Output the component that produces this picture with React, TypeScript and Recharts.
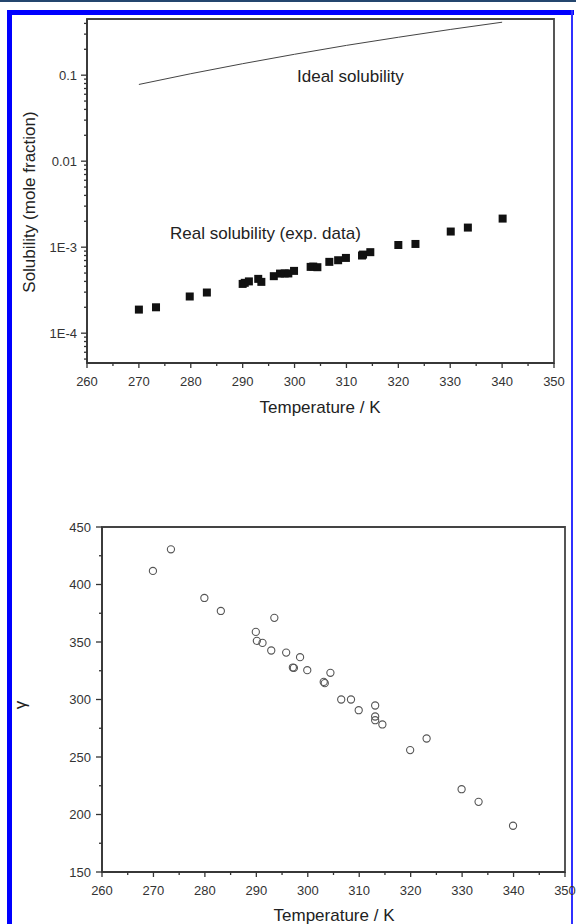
import React from 'react';
import { ScatterChart, Scatter, XAxis, YAxis, ReferenceArea } from 'recharts';

// measured solubility (mole fraction) vs temperature
const solTemps = [270.0, 273.3, 279.8, 283.1, 290.0, 290.4, 291.2, 293.0, 293.6, 296.0, 297.2, 298.1, 298.8, 299.9, 303.1, 303.6, 304.4, 306.7, 308.4, 309.9, 313.0, 313.2, 314.6, 320.0, 323.3, 330.1, 333.4, 340.1];
const solValues = [1.88e-4, 2.0e-4, 2.67e-4, 2.97e-4, 3.74e-4, 3.85e-4, 4.0e-4, 4.28e-4, 3.95e-4, 4.6e-4, 4.93e-4, 4.95e-4, 4.95e-4, 5.3e-4, 5.9e-4, 5.95e-4, 5.85e-4, 6.75e-4, 7.05e-4, 7.5e-4, 8.0e-4, 8.2e-4, 8.75e-4, 1.06e-3, 1.09e-3, 1.52e-3, 1.69e-3, 2.15e-3];

// ideal solubility curve
const idealTemps = [270, 280, 290, 300, 310, 320, 330, 340];
const idealValues = [0.078, 0.104, 0.136, 0.175, 0.222, 0.276, 0.34, 0.413];

// activity coefficient
const gammaTemps = [269.9, 273.4, 279.9, 283.1, 289.9, 290.1, 291.2, 292.9, 293.5, 295.8, 297.1, 297.3, 298.5, 299.9, 303.1, 303.3, 304.4, 306.5, 308.4, 309.9, 313.1, 313.1, 313.1, 314.5, 319.9, 323.1, 329.9, 333.2, 339.9];
const gammaValues = [411.8, 430.6, 388.3, 377, 358.8, 351, 349.2, 342.6, 371, 340.8, 327.8, 327.5, 336.8, 325.5, 315.3, 314.2, 323.2, 300, 300, 290.7, 294.8, 285.2, 282, 278.3, 256, 266.1, 222, 211, 190.2];

const xTicks = [260, 265, 270, 275, 280, 285, 290, 295, 300, 305, 310, 315, 320, 325, 330, 335, 340, 345, 350];
const logMajor = [1e-4, 1e-3, 1e-2, 1e-1];
const logMajorLabels = ['1E-4', '1E-3', '0.01', '0.1'];
const logMinorMult = [2, 3, 4, 5, 6, 7, 8, 9];
const gammaTicks = [150, 175, 200, 225, 250, 275, 300, 325, 350, 375, 400, 425, 450];

const logTicks: number[] = [];
[1e-5, 1e-4, 1e-3, 1e-2, 1e-1].forEach((d) => {
  if (d > 1e-5) logTicks.push(d);
  logMinorMult.forEach((m) => {
    const v = m * d;
    if (v >= 4.5e-5 && v <= 0.45) logTicks.push(v);
  });
});

const solData = solTemps.map((t, i) => ({ t, v: solValues[i] }));
const idealData = idealTemps.map((t, i) => ({ t, v: idealValues[i] }));
const gammaData = gammaTemps.map((t, i) => ({ t, g: gammaValues[i] }));

const FONT = '"Liberation Sans", Arial, sans-serif';
const INK = '#333';

const XTick = (props: any) => {
  const { x, y, payload } = props;
  const major = payload.value % 10 === 0;
  return (
    <g>
      <line x1={x} y1={y} x2={x} y2={y + (major ? 5 : 3)} stroke={INK} strokeWidth={1.3} />
      {major && (
        <text x={x} y={y + 23} textAnchor="middle" fontSize={13} fill={INK} fontFamily={FONT}>
          {payload.value}
        </text>
      )}
    </g>
  );
};

const LogTick = (props: any) => {
  const { x, y, payload } = props;
  const idx = logMajor.findIndex((m) => Math.abs(m - payload.value) / m < 1e-6);
  const major = idx >= 0;
  return (
    <g>
      <line x1={x} y1={y} x2={x - (major ? 6 : 3)} y2={y} stroke={INK} strokeWidth={1.3} />
      {major && (
        <text x={x - 10} y={y} dy="0.35em" textAnchor="end" fontSize={13} fill={INK} fontFamily={FONT}>
          {logMajorLabels[idx]}
        </text>
      )}
    </g>
  );
};

const GammaTick = (props: any) => {
  const { x, y, payload } = props;
  const major = payload.value % 50 === 0;
  return (
    <g>
      <line x1={x} y1={y} x2={x - (major ? 6 : 3)} y2={y} stroke={INK} strokeWidth={1.3} />
      {major && (
        <text x={x - 11} y={y} dy="0.35em" textAnchor="end" fontSize={13} fill={INK} fontFamily={FONT}>
          {payload.value}
        </text>
      )}
    </g>
  );
};

const Square = (p: any) => <rect x={p.cx - 4} y={p.cy - 4} width={8} height={8} fill="#111" />;
const OpenCircle = (p: any) => <circle cx={p.cx} cy={p.cy} r={3.6} fill="none" stroke="#555" strokeWidth={1.1} />;
const NoDot = () => <g />;

const txt = (style: React.CSSProperties): React.CSSProperties => ({
  position: 'absolute',
  fontFamily: FONT,
  color: '#222',
  whiteSpace: 'nowrap',
  lineHeight: 1,
  ...style,
});

export default function App() {
  return (
    <div style={{ position: 'absolute', left: 0, top: 0, width: 576, height: 924, background: '#fff', overflow: 'hidden' }}>
      <div style={{ position: 'absolute', left: 0, top: 0, width: 576, height: 2, background: '#24466e' }} />
      <div style={{ position: 'absolute', left: 7, top: 10, width: 567, height: 5, background: '#0000ff' }} />
      <div style={{ position: 'absolute', left: 7, top: 10, width: 5, height: 914, background: '#0000ff' }} />
      <div style={{ position: 'absolute', left: 571, top: 10, width: 2, height: 914, background: '#3030ff' }} />

      <div style={{ position: 'absolute', left: 0, top: 0 }}>
        <ScatterChart width={576} height={460} margin={{ top: 19, right: 22, bottom: 0, left: 0 }}>
          <XAxis type="number" dataKey="t" domain={[260, 350]} ticks={xTicks} interval={0} height={97}
            tickSize={0} tickMargin={0} tickLine={false} tick={<XTick />} axisLine={{ stroke: INK, strokeWidth: 1.5 }} allowDataOverflow />
          <YAxis type="number" dataKey="v" scale="log" domain={[4.5e-5, 0.45]} ticks={logTicks} interval={0} width={87}
            tickSize={0} tickMargin={0} tickLine={false} tick={<LogTick />} axisLine={{ stroke: INK, strokeWidth: 1.5 }} allowDataOverflow />
          <ReferenceArea x1={260} x2={350} y1={4.5e-5} y2={0.45} fill="none" stroke="#444" strokeWidth={1.8} ifOverflow="visible" />
          <Scatter data={idealData} line={{ stroke: '#444', strokeWidth: 1 }} shape={<NoDot />} isAnimationActive={false} />
          <Scatter data={solData} shape={<Square />} isAnimationActive={false} />
        </ScatterChart>
      </div>

      <div style={txt({ left: 297, top: 68, fontSize: 17 })}>Ideal solubility</div>
      <div style={txt({ left: 170, top: 225, fontSize: 17 })}>Real solubility (exp. data)</div>
      <div style={txt({ left: 320, top: 407, fontSize: 17, transform: 'translate(-50%, -50%)' })}>Temperature / K</div>
      <div style={txt({ left: 29, top: 202, fontSize: 17, transform: 'translate(-50%, -50%) rotate(-90deg)' })}>
        Solubility (mole fraction)
      </div>

      <div style={{ position: 'absolute', left: 0, top: 460 }}>
        <ScatterChart width={576} height={464} margin={{ top: 67, right: 11, bottom: 0, left: 0 }}>
          <XAxis type="number" dataKey="t" domain={[260, 350]} ticks={xTicks} interval={0} height={52}
            tickSize={0} tickMargin={0} tickLine={false} tick={<XTick />} axisLine={{ stroke: INK, strokeWidth: 1.5 }} allowDataOverflow />
          <YAxis type="number" dataKey="g" domain={[150, 450]} ticks={gammaTicks} interval={0} width={102}
            tickSize={0} tickMargin={0} tickLine={false} tick={<GammaTick />} axisLine={{ stroke: INK, strokeWidth: 1.5 }} allowDataOverflow />
          <ReferenceArea x1={260} x2={350} y1={150} y2={450} fill="none" stroke="#444" strokeWidth={1.8} ifOverflow="visible" />
          <Scatter data={gammaData} shape={<OpenCircle />} isAnimationActive={false} />
        </ScatterChart>
      </div>

      <div style={txt({ left: 334, top: 915, fontSize: 17, transform: 'translate(-50%, -50%)' })}>Temperature / K</div>
      <div style={txt({ left: 20, top: 705, fontSize: 17, transform: 'translate(-50%, -50%) rotate(-90deg)' })}>γ</div>
    </div>
  );
}
